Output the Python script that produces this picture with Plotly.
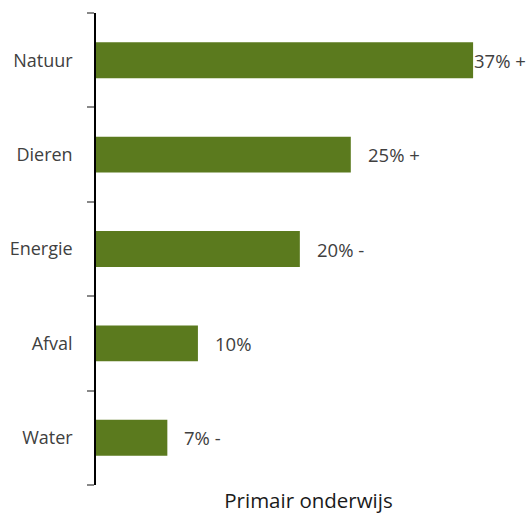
import plotly.graph_objects as go

categories = ["Natuur", "Dieren", "Energie", "Afval", "Water"]
values = [37, 25, 20, 10, 7]
labels = ["37% +", "25% +", "20% -", "10%", "7% -"]
axis_title = "Primair onderwijs"

bar_color = "#5B7A1E"
font_family = "'Open Sans', sans-serif"

fig = go.Figure()
fig.add_trace(go.Bar(
    y=categories,
    x=values,
    orientation="h",
    marker=dict(color=bar_color, line=dict(width=0)),
    width=0.38,
    hoverinfo="skip",
))

for cat, val, lab in zip(categories, values, labels):
    fig.add_annotation(
        x=val, y=cat, text=lab, showarrow=False,
        xanchor="left", yanchor="middle",
        xshift=-1 if val == max(values) else 15,
        font=dict(size=18.5, color="#404040", family=font_family),
    )

fig.update_layout(
    width=531, height=516,
    margin=dict(l=96, r=10, t=13, b=31),
    plot_bgcolor="white", paper_bgcolor="white",
    showlegend=False,
    font=dict(family=font_family, size=18, color="#404040"),
)
fig.update_xaxes(
    range=[0, 41.7], showgrid=False, zeroline=False, showticklabels=False,
    showline=False, ticks="", automargin=False,
    title=dict(text=axis_title, font=dict(size=20.5, color="#1a1a1a", family=font_family), standoff=8),
)
fig.update_yaxes(
    categoryorder="array", categoryarray=categories[::-1],
    showgrid=False, zeroline=False, automargin=False,
    showline=True, linecolor="black", linewidth=1.5,
    ticks="outside", tickson="boundaries", ticklen=7, tickcolor="#888888", tickwidth=1.5,
    tickfont=dict(size=18, color="#404040", family=font_family),
    ticklabelstandoff=18,
)

fig.write_html("out.html", config={"displayModeBar": False},
               post_script="document.body.style.margin='0';")
